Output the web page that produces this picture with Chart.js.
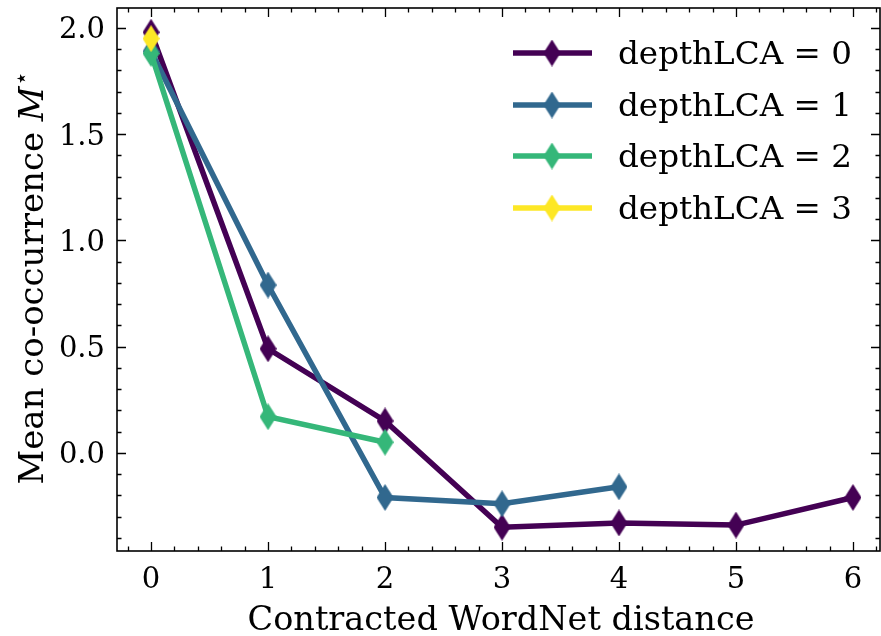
<!DOCTYPE html>
<html>
<head>
<meta charset="utf-8">
<script src="https://cdn.jsdelivr.net/npm/chart.js@4.4.1/dist/chart.umd.min.js"></script>
<style>
  html, body { margin: 0; padding: 0; background: #fff; }
</style>
</head>
<body>
<canvas id="myChart" width="881" height="636"></canvas>
<script>
// mean co-occurrence per contracted WordNet distance, one series per LCA depth
var distance = [0, 1, 2, 3, 4, 5, 6];
var depth0 = [1.98, 0.49, 0.15, -0.35, -0.33, -0.34, -0.21];
var depth1 = [1.89, 0.79, -0.21, -0.24, -0.16];
var depth2 = [1.88, 0.17, 0.05];
var depth3 = [1.95];
var seriesNames = ['depthLCA = 0', 'depthLCA = 1', 'depthLCA = 2', 'depthLCA = 3'];
var seriesColors = ['#440154', '#31688e', '#35b779', '#fde725'];
var xTicks = [0, 1, 2, 3, 4, 5, 6];
var yTicks = [0.0, 0.5, 1.0, 1.5, 2.0];

var FONT = "'DejaVu Serif', serif";

// thin diamond marker, like matplotlib's 'd'
function thinDiamond(color, w, h) {
  var c = document.createElement('canvas');
  c.width = w; c.height = h;
  var g = c.getContext('2d');
  g.fillStyle = color;
  g.beginPath();
  g.moveTo(w / 2, 0);
  g.lineTo(w, h / 2);
  g.lineTo(w / 2, h);
  g.lineTo(0, h / 2);
  g.closePath();
  g.fill();
  return c;
}

// draw a run of [text, font, dy] pieces squeezed/stretched to a given width
function fitText(ctx, pieces, x, y, width, align) {
  var total = 0;
  pieces.forEach(function (p) { ctx.font = p[1]; p.w = ctx.measureText(p[0]).width; total += p.w; });
  var k = width / total;
  ctx.save();
  ctx.translate(align === 'center' ? x - width / 2 : x, y);
  ctx.scale(k, 1);
  ctx.textAlign = 'left';
  var cx = 0;
  pieces.forEach(function (p) {
    ctx.font = p[1];
    ctx.fillText(p[0], cx, p[2] || 0);
    cx += p.w;
  });
  ctx.restore();
}

var allSeries = [depth0, depth1, depth2, depth3];
var markers = seriesColors.map(function (c) { return thinDiamond(c, 17, 27); });

var datasets = allSeries.map(function (vals, i) {
  return {
    label: seriesNames[i],
    data: vals.map(function (v, k) { return { x: distance[k], y: v }; }),
    borderColor: seriesColors[i],
    backgroundColor: seriesColors[i],
    borderWidth: 5.5,
    pointStyle: markers[i],
    // image markers ignore the radius; keep it tiny so no extra padding is reserved
    pointRadius: 0.5,
    pointHoverRadius: 0,
    pointBorderWidth: 0,
    tension: 0,
    order: 3 - i
  };
});

// box, inward major/minor ticks on all sides, tick labels, titles, legend
const frameTicks = {
  id: 'frameTicks',
  afterDatasetsDraw(chart) {
    const ctx = chart.ctx, a = chart.chartArea;
    const x = chart.scales.x, y = chart.scales.y;
    ctx.save();
    ctx.strokeStyle = '#000';
    ctx.lineWidth = 1.3;
    ctx.beginPath();
    for (let i = Math.ceil(x.min * 5); i <= Math.floor(x.max * 5); i++) {
      const px = Math.round(x.getPixelForValue(i / 5)) + 0.5;
      const len = (i % 5 === 0) ? 9 : 4.5;
      ctx.moveTo(px, a.bottom); ctx.lineTo(px, a.bottom - len);
      ctx.moveTo(px, a.top); ctx.lineTo(px, a.top + len);
    }
    for (let i = Math.ceil(y.min * 10); i <= Math.floor(y.max * 10); i++) {
      const py = Math.round(y.getPixelForValue(i / 10)) + 0.5;
      const len = (i % 5 === 0) ? 9 : 4.5;
      ctx.moveTo(a.left, py); ctx.lineTo(a.left + len, py);
      ctx.moveTo(a.right, py); ctx.lineTo(a.right - len, py);
    }
    ctx.stroke();
    ctx.lineWidth = 1.6;
    ctx.strokeRect(a.left, a.top, a.right - a.left, a.bottom - a.top);

    // tick labels
    ctx.fillStyle = '#000';
    ctx.font = '29px ' + FONT;
    ctx.textBaseline = 'alphabetic';
    ctx.textAlign = 'center';
    xTicks.forEach(function (v) {
      ctx.fillText(String(v), x.getPixelForValue(v), a.bottom + 37);
    });
    ctx.textAlign = 'right';
    yTicks.forEach(function (v) {
      ctx.fillText(v.toFixed(1), a.left - 12, y.getPixelForValue(v) + 10.5);
    });
    ctx.restore();
  },
  afterDraw(chart) {
    const ctx = chart.ctx;
    ctx.save();
    ctx.fillStyle = '#000';
    ctx.textBaseline = 'alphabetic';

    // x title
    fitText(ctx, [['Contracted WordNet distance', '34px ' + FONT]], 501, 630, 507, 'center');

    // y title with italic M and a star superscript
    ctx.save();
    ctx.translate(43, 278);
    ctx.rotate(-Math.PI / 2);
    fitText(ctx, [
      ['Mean co-occurrence ', '34px ' + FONT],
      ['M', 'italic 34px ' + FONT],
      ['\u22c6', '24px ' + FONT, -14]
    ], 0, 0, 413, 'center');
    ctx.restore();

    // legend: line handle with a marker, then label
    const rowY = [53, 105, 156, 208];
    chart.data.datasets.forEach(function (ds, i) {
      const cy = rowY[i];
      ctx.strokeStyle = ds.borderColor;
      ctx.lineWidth = 5.5;
      ctx.beginPath();
      ctx.moveTo(513, cy); ctx.lineTo(592, cy);
      ctx.stroke();
      ctx.drawImage(markers[i], 552 - 8.5, cy - 13.5);
      fitText(ctx, [[ds.label, '32px ' + FONT]], 618, cy + 11, 234, 'left');
    });
    ctx.restore();
  }
};

const ctx = document.getElementById('myChart');

const chart = new Chart(ctx, {
  type: 'line',
  data: { datasets: datasets },
  options: {
    responsive: false,
    animation: false,
    events: [],
    layout: { padding: { top: 8, right: 1, left: 0, bottom: 0 } },
    plugins: { legend: { display: false }, tooltip: { enabled: false } },
    scales: {
      x: {
        type: 'linear',
        min: -0.291,
        max: 6.231,
        afterFit: function (s) { s.height = 85; },
        grid: { display: false, drawTicks: false },
        border: { display: false },
        ticks: { display: false }
      },
      y: {
        type: 'linear',
        min: -0.462,
        max: 2.094,
        afterFit: function (s) { s.width = 117; },
        grid: { display: false, drawTicks: false },
        border: { display: false },
        ticks: { display: false }
      }
    }
  },
  plugins: [frameTicks]
});
</script>
</body>
</html>
